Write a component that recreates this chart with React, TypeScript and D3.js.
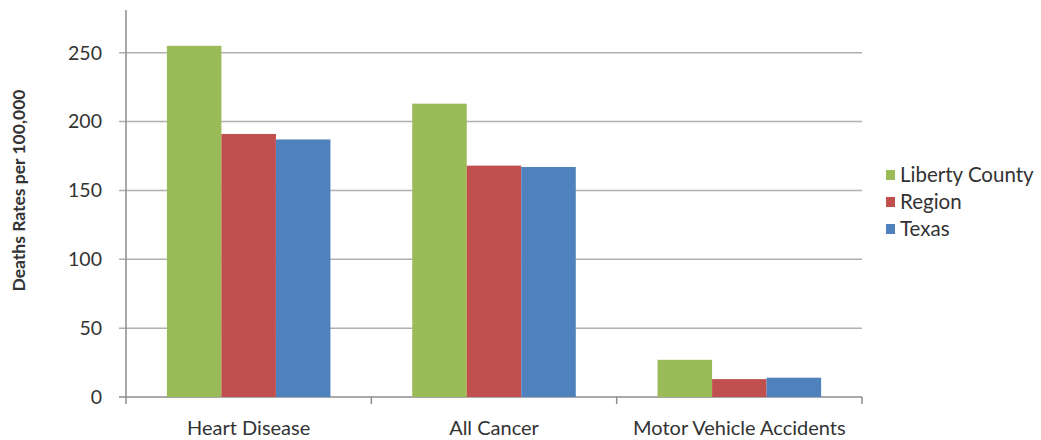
import React from "react";
import * as d3 from "d3";

const categories = ["Heart Disease", "All Cancer", "Motor Vehicle Accidents"];
const seriesNames = ["Liberty County", "Region", "Texas"];
const libertyCounty = [255, 213, 27];
const region = [191, 168, 13];
const texas = [187, 167, 14];
const yTicks = [0, 50, 100, 150, 200, 250];
const colors = ["#9BBB59", "#C0504D", "#4F81BD"];

const W = 1041;
const H = 440;
const left = 126;
const right = 862;
const top = 10;
const bottom = 397;
const font = "Lato, 'Open Sans', sans-serif";
const textColor = "#333333";

export default function App() {
  const series = [libertyCounty, region, texas];
  const x = d3.scaleBand<string>().domain(categories).range([left, right]).paddingInner(0).paddingOuter(0);
  const inner = d3
    .scaleBand<string>()
    .domain(seriesNames)
    .range([0, x.bandwidth()])
    .paddingInner(0)
    .paddingOuter(0.75);
  const y = d3.scaleLinear().domain([0, 281]).range([bottom, top]);
  const boundaries = [left, ...categories.map((c) => (x(c) as number) + x.bandwidth())];

  return (
    <svg
      width={W}
      height={H}
      style={{ position: "absolute", left: 0, top: 0, background: "#fff" }}
      fontFamily={font}
    >
      {yTicks.map((t) => (
        <g key={t}>
          <line
            x1={left - 7}
            x2={right}
            y1={y(t)}
            y2={y(t)}
            stroke={t === 0 ? "#8c8c8c" : "#b0b0b0"}
            strokeWidth={1.5}
          />
          <text
            x={102}
            y={y(t)}
            dy="0.35em"
            textAnchor="end"
            fontSize={19.5}
            fill={textColor}
          >
            {t}
          </text>
        </g>
      ))}
      <line x1={left} x2={left} y1={top} y2={bottom} stroke="#8c8c8c" strokeWidth={1.5} />
      {boundaries.map((b, i) => (
        <line key={i} x1={b} x2={b} y1={bottom} y2={bottom + 7} stroke="#8c8c8c" strokeWidth={1.5} />
      ))}
      {categories.map((c, ci) => (
        <g key={c}>
          {series.map((s, si) => (
            <rect
              key={si}
              x={(x(c) as number) + (inner(seriesNames[si]) as number)}
              y={y(s[ci])}
              width={inner.bandwidth()}
              height={bottom - y(s[ci])}
              fill={colors[si]}
            />
          ))}
          <text
            x={(x(c) as number) + x.bandwidth() / 2}
            y={428}
            dy="0.35em"
            textAnchor="middle"
            fontSize={20}
            fill={textColor}
          >
            {c}
          </text>
        </g>
      ))}
      <text
        transform={`translate(19,${(top + bottom) / 2 - 13}) rotate(-90)`}
        textAnchor="middle"
        dy="0.35em"
        fontSize={17.5}
        fontWeight="bold"
        fill={textColor}
      >
        Deaths Rates per 100,000
      </text>
      {seriesNames.map((n, i) => (
        <g key={n} transform={`translate(886,${175 + i * 27})`}>
          <rect x={0} y={-5} width={9} height={10} fill={colors[i]} />
          <text x={14} y={0} dy="0.35em" fontSize={20.5} fill={textColor}>
            {n}
          </text>
        </g>
      ))}
    </svg>
  );
}
